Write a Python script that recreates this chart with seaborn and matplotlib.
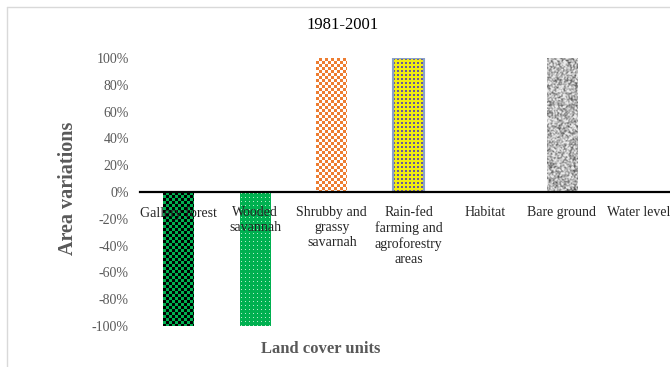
import numpy as np
import matplotlib
matplotlib.use("Agg")
import matplotlib.pyplot as plt
from matplotlib.lines import Line2D
from matplotlib.ticker import FuncFormatter
import seaborn as sns

categories = ["Gallery forest", "Wooded\nsavannah", "Shrubby and\ngrassy\nsavarnah",
              "Rain-fed\nfarming and\nagroforestry\nareas", "Habitat", "Bare ground", "Water level"]
variation = [-1.0, -1.0, 1.0, 1.0, 0.0, 1.0, 0.0]
y_ticks = [-1.0, -0.8, -0.6, -0.4, -0.2, 0.0, 0.2, 0.4, 0.6, 0.8, 1.0]

base_colors = ["#00b050", "#00b050", "#ed7d31", "#ffff00", "#ffffff", "#a0a0a0", "#ffffff"]

sns.set_theme(style="white")
plt.rcParams["font.family"] = ["Liberation Serif", "DejaVu Serif"]

W, H = 670, 367
fig = plt.figure(figsize=(W / 100, H / 100), dpi=100)
fig.patch.set_facecolor("white")
left_px, right_px, top_px, bot_px = 140.0, 677.0, 58.0, 326.0
ax = fig.add_axes([left_px / W, 1 - bot_px / H, (right_px - left_px) / W, (bot_px - top_px) / H])

sns.barplot(x=categories, y=variation, hue=categories, palette=base_colors,
            legend=False, width=0.4, ax=ax, saturation=1, edgecolor="none")


def hex_rgb(h):
    h = h.lstrip("#")
    return np.array([int(h[i:i + 2], 16) / 255 for i in (0, 2, 4)])


def checker(hp, wp, c1, c2, cell=3):
    r, c = np.mgrid[0:hp, 0:wp]
    m = ((r // cell + c // cell) % 2).astype(bool)
    img = np.empty((hp, wp, 3))
    img[m] = hex_rgb(c1)
    img[~m] = hex_rgb(c2)
    return img


def dots(hp, wp, bg, dot, step=4):
    r, c = np.mgrid[0:hp, 0:wp]
    m = ((r % step) == 1) & ((c % step) == 1)
    img = np.empty((hp, wp, 3))
    img[:] = hex_rgb(bg)
    img[m] = hex_rgb(dot)
    return img


def dotted_checker(hp, wp, bg, dot):
    r, c = np.mgrid[0:hp, 0:wp]
    m = (((r // 2) + (c // 2)) % 2 == 0) & (r % 4 < 2)
    img = np.empty((hp, wp, 3))
    img[:] = hex_rgb(bg)
    img[m] = hex_rgb(dot)
    return img


def granite(hp, wp):
    r, c = np.mgrid[0:hp, 0:wp]
    h = ((r * 73856093) ^ (c * 19349663) ^ ((r // 2) * 83492791)) % 997
    v = 0.38 + 0.5 * (h / 996.0)
    # soften by averaging neighbours
    v = (v + np.roll(v, 1, 0) + np.roll(v, 1, 1) + np.roll(np.roll(v, 1, 0), 1, 1)) / 4
    v = np.clip((v - 0.6) * 1.8 + 0.66, 0.3, 0.92)
    return np.dstack([v, v, v])


textures = {
    0: lambda hp, wp: checker(hp, wp, "#00b050", "#000000", 3),
    1: lambda hp, wp: dots(hp, wp, "#00b050", "#b5ecc9", 4),
    2: lambda hp, wp: checker(hp, wp, "#ed7d31", "#ffffff", 3),
    3: lambda hp, wp: dotted_checker(hp, wp, "#f2ee10", "#6a5a9a"),
    5: lambda hp, wp: granite(hp, wp),
}

ax.set_ylim(-1, 1)
ax.set_xlim(-0.5, len(categories) - 0.5)
fig.canvas.draw()

bars = [p for p in ax.patches]
for i, bar in enumerate(bars):
    if i not in textures or bar.get_height() == 0:
        continue
    x0, y0 = bar.get_x(), bar.get_y()
    x1, y1 = x0 + bar.get_width(), y0 + bar.get_height()
    p0 = ax.transData.transform((x0, min(y0, y1)))
    p1 = ax.transData.transform((x1, max(y0, y1)))
    wp = max(int(round(abs(p1[0] - p0[0]))), 1)
    hp = max(int(round(abs(p1[1] - p0[1]))), 1)
    img = textures[i](hp, wp)
    im = ax.imshow(img, extent=(x0, x1, min(y0, y1), max(y0, y1)), origin="upper",
                   aspect="auto", interpolation="nearest", zorder=1.5)
    im.set_clip_path(bar)
    if i == 3:
        bar.set_edgecolor("#8aa2c8")
        bar.set_linewidth(1.5)
        bar.set_zorder(1.6)
        bar.set_facecolor("none")

ax.set_ylim(-1, 1)
ax.set_xlim(-0.5, len(categories) - 0.5)
ax.set_yticks(y_ticks)
ax.yaxis.set_major_formatter(FuncFormatter(lambda v, _: f"{v * 100:.0f}%"))
ax.tick_params(axis="y", length=0, pad=8, labelsize=10, labelcolor="#595959")
ax.tick_params(axis="x", length=0, pad=10, labelsize=10, labelcolor="#262626")
for lab in ax.get_xticklabels():
    lab.set_linespacing(1.45)
ax.set_axisbelow(False)

for s in ["left", "right", "top"]:
    ax.spines[s].set_visible(False)
ax.spines["bottom"].set_position(("data", 0))
ax.spines["bottom"].set_color("black")
ax.spines["bottom"].set_linewidth(1.6)
ax.spines["bottom"].set_zorder(3)
ax.set_xlabel("")
ax.set_ylabel("")
ax.grid(False)

fig.text(343 / W, 1 - 25 / H, "1981-2001", ha="center", va="center", fontsize=12, color="black")
fig.text(68 / W, 1 - 188 / H, "Area variations", ha="center", va="center", rotation=90,
         fontsize=14.5, fontweight="bold", color="#595959")
fig.text(321 / W, 1 - 349 / H, "Land cover units", ha="center", va="center",
         fontsize=12, fontweight="bold", color="#595959")

# outer chart frame
fig.add_artist(Line2D([6.5 / W, 6.5 / W], [0, 1 - 6.5 / H], transform=fig.transFigure,
                      color="#d9d9d9", lw=1))
fig.add_artist(Line2D([6.5 / W, 1], [1 - 6.5 / H, 1 - 6.5 / H], transform=fig.transFigure,
                      color="#d9d9d9", lw=1))

fig.savefig("out.png", dpi=100)
